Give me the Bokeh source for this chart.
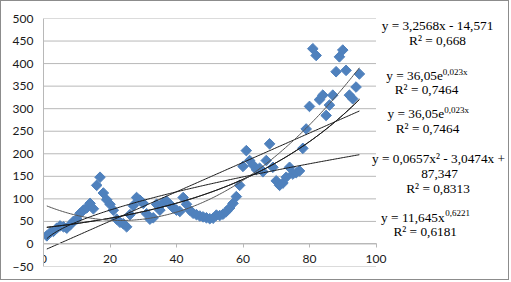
import numpy as np
from bokeh.plotting import figure
from bokeh.models import Label, FixedTicker, Range1d
from bokeh.embed import file_html
from bokeh.resources import INLINE

# ---------------- data ----------------
x_values = list(range(1, 96))
y_values = [18, 25, 28, 35, 40, 38, 35, 42, 50, 55,
            68, 75, 80, 90, 78, 130, 148, 113, 98, 88,
            75, 55, 48, 45, 38, 65, 85, 103, 97, 90,
            67, 55, 58, 88, 75, 92, 95, 88, 80, 75,
            72, 103, 88, 75, 68, 65, 62, 60, 58, 56,
            57, 64, 63, 66, 72, 80, 90, 105, 130, 172,
            207, 185, 175, 165, 168, 160, 185, 222, 170, 140,
            130, 135, 148, 170, 155, 158, 162, 212, 255, 305,
            433, 418, 320, 330, 285, 308, 330, 382, 415, 430,
            385, 330, 322, 348, 377]

# trendline coefficients as printed on the chart
linear_coef = [3.2568, -14.571]          # y = a x + b
exp_coef = [36.05, 0.023]                # y = a e^(b x)
poly_coef = [0.0657, -3.0474, 87.347]    # y = a x^2 + b x + c
power_coef = [11.645, 0.6221]            # y = a x^b

x_ticks = [0, 20, 40, 60, 80, 100]
y_ticks = list(range(-50, 501, 50))

# ---------------- layout ----------------
W, H = 509, 280
BL, BT, BB = 42, 17, 15                  # borders (px) inside the figure
X0, XMAX, Y0, Y1 = 0, 100, -50, 500
PX_PER_X = 3.325
X1 = (W - BL) / PX_PER_X                 # frame runs to the right edge
FL, FT = BL + 1, BT + 1                  # frame edges on the page (1px css border)
FB = H - BB + 1

def dx(px):
    return X0 + (px - FL) / PX_PER_X

def dy(py):
    return Y1 - (py - FT) / (FB - FT) * (Y1 - Y0)

GRID = "#b8b8b8"
BLUE = "#4f81bd"
FONT_AX = "Lato"
FONT_EQ = "Liberation Serif"
FS = 13.3
FS_SUP = 9.0

p = figure(width=W, height=H,
           x_range=Range1d(X0, X1), y_range=Range1d(Y0, Y1),
           output_backend="svg", toolbar_location=None,
           min_border_left=BL, min_border_right=0,
           min_border_top=BT, min_border_bottom=BB)
p.styles = {"border": "1px solid #8c8c8c"}
p.outline_line_color = None
p.background_fill_color = "white"
p.border_fill_color = "white"

# axes
p.xaxis.fixed_location = 0
p.xaxis.bounds = (X0, XMAX)
p.xaxis.ticker = FixedTicker(ticks=x_ticks)
p.xaxis.major_tick_out = 4
p.xaxis.major_tick_in = 0
p.xaxis.minor_tick_out = 0
p.xaxis.minor_tick_in = 0
p.xaxis.axis_line_color = GRID
p.xaxis.major_tick_line_color = GRID
p.xaxis.major_label_standoff = 7
p.xaxis.major_label_text_font = FONT_AX
p.xaxis.major_label_text_font_size = "12px"
p.xaxis.major_label_text_color = "#1a1a1a"

p.yaxis.ticker = FixedTicker(ticks=y_ticks)
p.yaxis.major_tick_out = 0
p.yaxis.major_tick_in = 0
p.yaxis.minor_tick_out = 0
p.yaxis.minor_tick_in = 0
p.yaxis.axis_line_color = GRID
p.yaxis.major_label_standoff = 10
p.yaxis.major_label_text_font = FONT_AX
p.yaxis.major_label_text_font_size = "12px"
p.yaxis.major_label_text_color = "#1a1a1a"

# horizontal gridlines only across the plot area (x 0..100)
p.xgrid.visible = False
p.ygrid.visible = False
p.segment(x0=[X0] * len(y_ticks), x1=[XMAX] * len(y_ticks),
          y0=y_ticks, y1=y_ticks, line_color=GRID, line_width=1,
          level="underlay")

# data markers (diamonds)
p.scatter(x_values, y_values, marker="square", angle=np.pi / 4, size=7.5,
          fill_color=BLUE, line_color=BLUE)

# trendlines
xt = np.linspace(min(x_values), max(x_values), 200)
lin = linear_coef[0] * xt + linear_coef[1]
expo = exp_coef[0] * np.exp(exp_coef[1] * xt)
poly = poly_coef[0] * xt ** 2 + poly_coef[1] * xt + poly_coef[2]
powr = power_coef[0] * xt ** power_coef[1]
p.line(xt, lin, line_color="#1a1a1a", line_width=1)
p.line(xt, expo, line_color="#1a1a1a", line_width=1)
p.line(xt, expo, line_color="#1a1a1a", line_width=1)
p.line(xt, poly, line_color="#555555", line_width=1)
p.line(xt, powr, line_color="#1a1a1a", line_width=1)

# equation labels
EM = {'y': 0.5, ' ': 0.25, '=': 0.564, ',': 0.25, 'e': 0.444, 'x': 0.5,
      '-': 0.333, '+': 0.564, 'R': 0.667, '\u00b2': 0.3}
for d in "0123456789":
    EM[d] = 0.5

def tw(s, fs):
    return sum(EM.get(c, 0.5) for c in s) * fs

def plain(text, cx, cy):
    p.add_layout(Label(x=dx(cx), y=dy(cy), text=text, text_align="center",
                       text_baseline="middle", text_font=FONT_EQ,
                       text_font_size=f"{FS}px", text_color="black"))

def mixed(base, sup, cx, cy):
    wb = tw(base, FS)
    ws = tw(sup, FS_SUP)
    start = cx - (wb + ws) / 2
    p.add_layout(Label(x=dx(start), y=dy(cy), text=base, text_align="left",
                       text_baseline="middle", text_font=FONT_EQ,
                       text_font_size=f"{FS}px", text_color="black"))
    p.add_layout(Label(x=dx(start), y=dy(cy), x_offset=wb, y_offset=4,
                       text=sup, text_align="left",
                       text_baseline="middle", text_font=FONT_EQ,
                       text_font_size=f"{FS_SUP}px", text_color="black"))

plain("y = 3,2568x - 14,571", 437, 25)
plain("R\u00b2 = 0,668", 437, 40)
mixed("y = 36,05e", "0,023x", 426.4, 75)
plain("R\u00b2 = 0,7464", 426, 88.5)
mixed("y = 36,05e", "0,023x", 427.7, 113.3)
plain("R\u00b2 = 0,7464", 427, 128)
plain("y = 0,0657x\u00b2 - 3,0474x +", 438, 158)
plain("87,347", 439, 173.3)
plain("R\u00b2 = 0,8313", 437.5, 188.3)
mixed("y = 11,645x", "0,6221", 425, 216.7)
plain("R\u00b2 = 0,6181", 424.7, 231)

open("out.html", "w").write(file_html(p, INLINE))
